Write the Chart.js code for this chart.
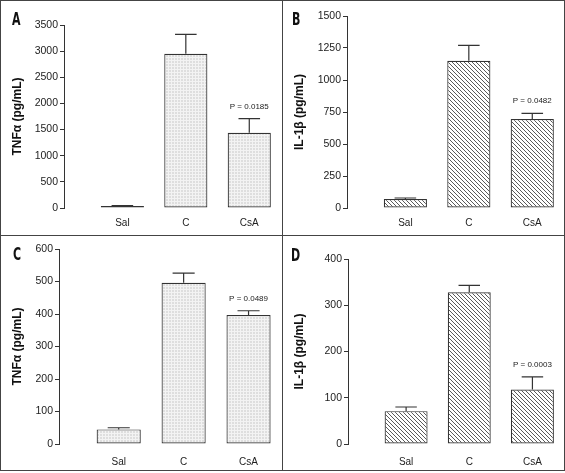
<!DOCTYPE html>
<html>
<head>
<meta charset="utf-8">
<script src="https://cdn.jsdelivr.net/npm/chart.js@4.4.1/dist/chart.umd.min.js"></script>
<style>
  body { margin: 0; background: #fff; }
  #wrap { position: relative; width: 565px; height: 473px; }
  canvas { position: absolute; }
  .line { position: absolute; background: #444; }
  .letter { position: absolute; font: bold 18px "Liberation Sans Narrow", "DejaVu Sans Condensed", sans-serif; color: #111; line-height: 1; transform: scaleX(0.68); transform-origin: left top; }
</style>
</head>
<body>
<div id="wrap">
  <canvas id="chartA" width="282" height="235" style="left:0;top:0"></canvas>
  <canvas id="chartB" width="283" height="235" style="left:282px;top:0"></canvas>
  <canvas id="chartC" width="282" height="238" style="left:0;top:235px"></canvas>
  <canvas id="chartD" width="283" height="238" style="left:282px;top:235px"></canvas>
  <div class="line" style="left:0;top:0;width:565px;height:1px"></div>
  <div class="line" style="left:0;top:470px;width:565px;height:1px"></div>
  <div class="line" style="left:0;top:0;width:1px;height:471px"></div>
  <div class="line" style="left:564px;top:0;width:1px;height:471px"></div>
  <div class="line" style="left:282px;top:0;width:1px;height:471px"></div>
  <div class="line" style="left:0;top:235px;width:565px;height:1px"></div>
  <span class="letter" style="left:12px;top:10px">A</span>
  <span class="letter" style="left:292px;top:10px">B</span>
  <span class="letter" style="left:13px;top:245px">C</span>
  <span class="letter" style="left:291px;top:246px">D</span>
</div>
<script>
const groups = ["Sal", "C", "CsA"];

// panel A: TNFa, upper row
const tnfUpper = [40, 2950, 1440];
const tnfUpperErr = [8, 370, 270];
const tnfUpperP = ["", "", "P = 0.0185"];
const tnfUpperTicks = [0, 500, 1000, 1500, 2000, 2500, 3000, 3500];

// panel B: IL-1b, upper row
const ilUpper = [70, 1150, 695];
const ilUpperErr = [8, 120, 45];
const ilUpperP = ["", "", "P = 0.0482"];
const ilUpperTicks = [0, 250, 500, 750, 1000, 1250, 1500];

// panel C: TNFa, lower row
const tnfLower = [45, 496, 397];
const tnfLowerErr = [5, 30, 13];
const tnfLowerP = ["", "", "P = 0.0489"];
const tnfLowerTicks = [0, 100, 200, 300, 400, 500, 600];

// panel D: IL-1b, lower row
const ilLower = [71, 328, 118];
const ilLowerErr = [9, 15, 27];
const ilLowerP = ["", "", "P = 0.0003"];
const ilLowerTicks = [0, 100, 200, 300, 400];

const textColor = "#222";
const lineColor = "#333";
const fontFamily = "'Liberation Sans', Arial, sans-serif";

function gridPattern() {
  const c = document.createElement("canvas");
  c.width = 3; c.height = 3;
  const g = c.getContext("2d");
  g.fillStyle = "#dedede";
  g.fillRect(0, 0, 3, 3);
  g.fillStyle = "#f3f3f3";
  g.fillRect(0, 0, 3, 1);
  g.fillRect(0, 0, 1, 3);
  return g.createPattern(c, "repeat");
}

function hatchPattern() {
  const c = document.createElement("canvas");
  c.width = 4; c.height = 4;
  const g = c.getContext("2d");
  g.fillStyle = "#fff";
  g.fillRect(0, 0, 4, 4);
  g.strokeStyle = "#5a5a5a";
  g.lineWidth = 1;
  g.beginPath();
  g.moveTo(-1, -1); g.lineTo(5, 5);
  g.moveTo(3, -1); g.lineTo(5, 1);
  g.moveTo(-1, 3); g.lineTo(1, 5);
  g.stroke();
  return g.createPattern(c, "repeat");
}

const errorBars = {
  id: "errorBars",
  afterDatasetsDraw(chart, args, opts) {
    const { ctx } = chart;
    const yScale = chart.scales.y;
    const meta = chart.getDatasetMeta(0);
    const ds = chart.data.datasets[0];
    ctx.save();
    ctx.strokeStyle = lineColor;
    ctx.lineWidth = 1.2;
    meta.data.forEach((bar, i) => {
      const v = ds.data[i].y;
      const top = yScale.getPixelForValue(v + opts.err[i]);
      const half = bar.width * 0.25;
      ctx.beginPath();
      ctx.moveTo(bar.x, bar.y);
      ctx.lineTo(bar.x, top);
      ctx.moveTo(bar.x - half, top);
      ctx.lineTo(bar.x + half, top);
      ctx.stroke();
      if (opts.p[i]) {
        ctx.fillStyle = textColor;
        ctx.font = "8px " + fontFamily;
        ctx.textAlign = "center";
        ctx.textBaseline = "middle";
        ctx.fillText(opts.p[i], bar.x, top - 12);
      }
    });
    ctx.restore();
  }
};

function makePanel(id, values, errs, pLabels, ticks, title, fill, box) {
  return new Chart(document.getElementById(id), {
    type: "bar",
    data: {
      datasets: [{
        data: values.map((v, i) => ({ x: i + 1, y: v })),
        backgroundColor: fill,
        borderColor: lineColor,
        borderWidth: 1.2,
        borderSkipped: false,
        barPercentage: 0.68,
        categoryPercentage: 1
      }]
    },
    options: {
      responsive: false,
      animation: false,
      devicePixelRatio: 1,
      layout: { padding: { left: 4, top: box.top, right: 1, bottom: 0 } },
      plugins: {
        legend: { display: false },
        tooltip: { enabled: false },
        errorBars: { err: errs, p: pLabels }
      },
      scales: {
        x: {
          type: "linear",
          offset: false,
          min: 0.08,
          max: 3.5,
          grid: { display: false, drawTicks: false },
          border: { display: false },
          afterBuildTicks: s => { s.ticks = groups.map((g, i) => ({ value: i + 1 })); },
          afterFit: s => { s.height = box.bottom; },
          ticks: {
            callback: v => groups[v - 1],
            color: textColor,
            padding: box.labelPad,
            font: { family: fontFamily, size: 10 }
          }
        },
        y: {
          min: ticks[0],
          max: ticks[ticks.length - 1],
          afterBuildTicks: s => { s.ticks = ticks.map(t => ({ value: t })); },
          afterFit: s => { s.width = box.axis - 4; },
          grid: { drawOnChartArea: false, drawTicks: true, tickLength: 4, color: lineColor },
          border: { display: true, color: lineColor, width: 1 },
          ticks: {
            callback: v => String(v),
            color: textColor,
            padding: 2,
            font: { family: fontFamily, size: 10.5 }
          },
          title: {
            display: true,
            text: title,
            color: "#111",
            padding: { top: 6, bottom: 0 },
            font: { family: fontFamily, size: 12, weight: "bold" }
          }
        }
      }
    },
    plugins: [errorBars]
  });
}

makePanel("chartA", tnfUpper, tnfUpperErr, tnfUpperP, tnfUpperTicks, "TNFα (pg/mL)", gridPattern(),
  { axis: 64, top: 25, bottom: 27, labelPad: 9 });
makePanel("chartB", ilUpper, ilUpperErr, ilUpperP, ilUpperTicks, "IL-1β (pg/mL)", hatchPattern(),
  { axis: 65, top: 16, bottom: 27, labelPad: 9 });
makePanel("chartC", tnfLower, tnfLowerErr, tnfLowerP, tnfLowerTicks, "TNFα (pg/mL)", gridPattern(),
  { axis: 59, top: 14, bottom: 29, labelPad: 12 });
makePanel("chartD", ilLower, ilLowerErr, ilLowerP, ilLowerTicks, "IL-1β (pg/mL)", hatchPattern(),
  { axis: 66, top: 24, bottom: 29, labelPad: 12 });
</script>
</body>
</html>
